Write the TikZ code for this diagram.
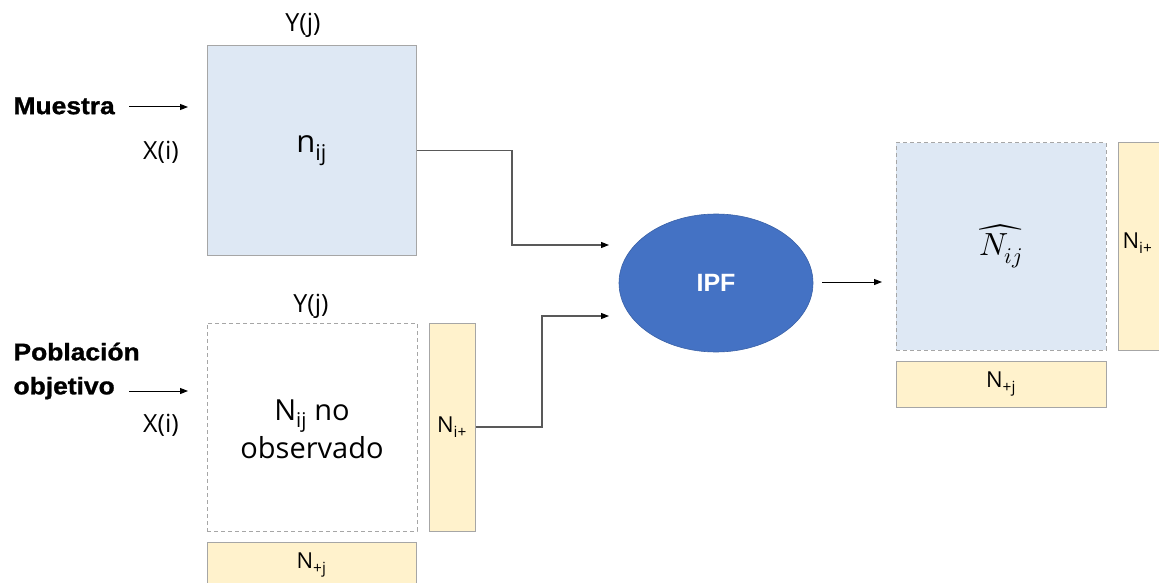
\documentclass[tikz,border=0pt]{standalone}
\usepackage{fontspec}
\usepackage{unicode-math}
\setmainfont{Open Sans}
\setmathfont{Latin Modern Math}
\newfontfamily\headfont{Liberation Sans}[FakeStretch=1.1,BoldFeatures={FakeBold=1.2}]
\newfontfamily\ipffont{Liberation Sans}
\usetikzlibrary{arrows.meta,shapes.geometric}
\definecolor{cellblue}{HTML}{DEE8F4}
\definecolor{margyellow}{HTML}{FFF2CC}
\definecolor{edgegray}{HTML}{A6A6A6}
\definecolor{ipfblue}{HTML}{4472C4}
\definecolor{linegray}{HTML}{595959}
\begin{document}
\begin{tikzpicture}[x=1pt,y=-1pt,
  cell/.style={draw=edgegray,line width=1pt,fill=cellblue,inner sep=0pt},
  hidden/.style={draw=edgegray,line width=1pt,dashed,dash pattern=on 4pt off 3pt,inner sep=0pt},
  margin/.style={draw=edgegray,line width=1pt,fill=margyellow,inner sep=0pt},
  axis/.style={font=\fontsize{25}{28}\selectfont},
  head/.style={font=\headfont\bfseries\fontsize{24}{34}\selectfont,align=left,anchor=west},
  conn/.style={draw=linegray,line width=1.1pt,-{Triangle[length=8pt,width=6pt,color=black]}},
  feed/.style={draw=black,line width=1pt,-{Triangle[length=8pt,width=6pt]}}]
\useasboundingbox (0,0) rectangle (1159,583);

% observed sample table
\node[cell,minimum width=209pt,minimum height=209pt] (sample) at (311.5,150.5)
  {\fontsize{31}{36}\selectfont n\textsubscript{ij}};
\node[axis] (ytop) at (303,25) {Y(j)};
\node[axis] (xtop) at (161,152) {X(i)};
\node[head] (muestra) at (10,106) {Muestra};

% target population table with known margins
\node[hidden,minimum width=210pt,minimum height=208pt] (pop) at (312,427)
  {};
\node[align=center,font=\fontsize{29}{38}\selectfont] (poptext) at (312,429)
  {N\textsubscript{ij} no\\observado};
\node[margin,minimum width=46pt,minimum height=208pt] (rowm) at (452,427)
  {\fontsize{22}{26}\selectfont N\textsubscript{i+}};
\node[margin,minimum width=209pt,minimum height=46pt] (colm) at (311.5,565)
  {\fontsize{22}{26}\selectfont N\textsubscript{+j}};
\node[axis] (ybot) at (311,306) {Y(j)};
\node[axis] (xbot) at (161,425) {X(i)};
\node[head] (poblacion) at (10,371) {Población\\objetivo};

% raking step
\node[ellipse,fill=ipfblue,draw=ipfblue!85!black,line width=0.6pt,
  minimum width=194pt,minimum height=138pt,
  font=\ipffont\bfseries\fontsize{25}{30}\selectfont,text=white] (ipf) at (716,283) {IPF};

% estimated table
\node[cell,hidden,fill=cellblue,minimum width=210pt,minimum height=207pt] (est) at (1001,246.5)
  {\fontsize{32}{36}\selectfont$\widehat{N_{ij}}$};
\node[margin,minimum width=46pt,minimum height=207pt] (rowr) at (1141,246.5) {};
\node[font=\fontsize{22}{26}\selectfont,anchor=west] (rowrtext) at (1119,243) {N\textsubscript{i+}};
\node[margin,minimum width=210pt,minimum height=46pt] (colr) at (1001,384)
  {\fontsize{22}{26}\selectfont N\textsubscript{+j}};

% connectors
\coordinate (m0) at (129,107);  \coordinate (m1) at (188,107);
\coordinate (p0) at (129,391);  \coordinate (p1) at (188,391);
\coordinate (k1) at (512,245);  \coordinate (in1) at (609,245);
\coordinate (k2) at (542,316);  \coordinate (in2) at (609,316);
\coordinate (o0) at (822,282);  \coordinate (o1) at (882,282);
\draw[feed] (m0) -- (m1);
\draw[feed] (p0) -- (p1);
\draw[conn] (sample.east) -| (k1) -- (in1);
\draw[conn] (rowm.east) -| (k2) -- (in2);
\draw[feed] (o0) -- (o1);
\end{tikzpicture}
\end{document}
